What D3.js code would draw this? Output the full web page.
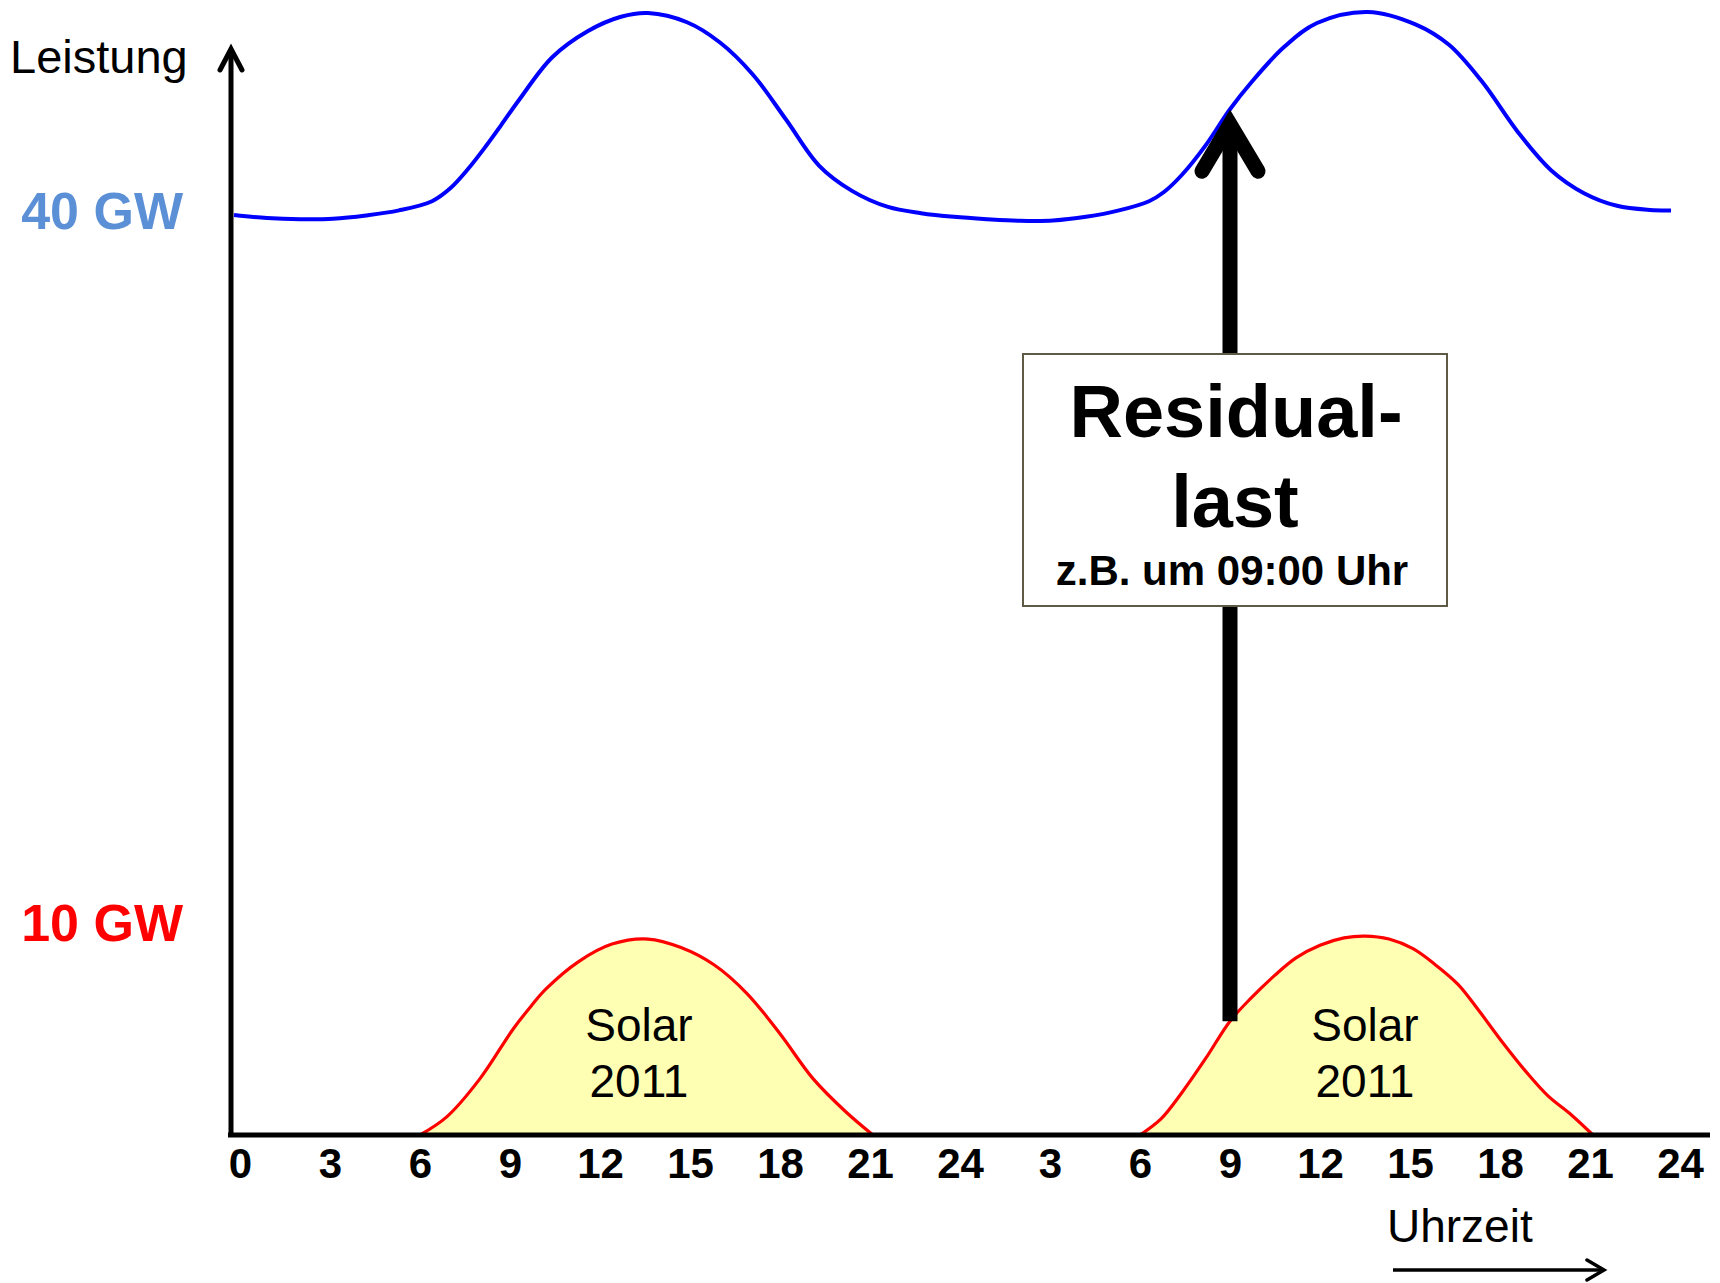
<!DOCTYPE html>
<html>
<head>
<meta charset="utf-8">
<script src="https://cdn.jsdelivr.net/npm/d3@7"></script>
<style>
  html, body { margin: 0; padding: 0; background: #ffffff; }
  svg { display: block; font-family: "Liberation Sans", Arial, Helvetica, sans-serif; }
</style>
</head>
<body>
<svg id="chart" width="1720" height="1283"></svg>
<script>
// Grid load over two days (hour 0..48), in GW
const loadHours  = [-0.2, 0.9, 2.0, 3.1, 4.2, 5.3, 6.4, 7.0, 7.6, 8.2, 8.7, 9.3, 10.4, 11.6, 12.7, 13.6,
                    14.9, 16.0, 17.1, 18.2, 19.3, 20.4, 21.6, 22.7, 23.8, 24.9, 26.0, 27.1, 28.2, 29.3,
                    30.3, 30.8, 31.4, 32.2, 33.0, 33.7, 34.8, 35.9, 37.6, 39.2, 40.3, 41.4, 42.6, 43.7,
                    44.8, 45.9, 47.0, 47.7];
const loadValues = [40.0, 39.87, 39.82, 39.84, 39.98, 40.2, 40.6, 41.15, 42.0, 43.0, 43.9, 45.0, 46.85, 48.0, 48.62, 48.78,
                    48.38, 47.5, 46.1, 44.15, 42.15, 41.05, 40.35, 40.08, 39.92, 39.82, 39.75, 39.76, 39.92, 40.2,
                    40.6, 41.0, 41.75, 43.05, 44.6, 45.75, 47.3, 48.35, 48.83, 48.28, 47.4, 45.8, 43.6, 41.95,
                    40.95, 40.4, 40.22, 40.2];

// Solar feed-in 2011, first day
const solarDay1Hours  = [6.0, 6.9, 8.0, 9.1, 9.7, 10.2, 11.3, 12.4, 13.6, 14.7, 15.8, 16.9, 18.0, 19.1, 20.2, 21.1];
const solarDay1Values = [0.0, 0.8, 2.45, 4.6, 5.6, 6.35, 7.55, 8.3, 8.52, 8.15, 7.4, 6.15, 4.4, 2.45, 1.0, 0.0];

// Solar feed-in 2011, second day
const solarDay2Hours  = [30.0, 30.7, 31.4, 32.2, 33.0, 33.7, 34.5, 35.2, 36.0, 36.8, 37.5, 38.3, 39.1, 39.8, 40.6,
                         41.3, 42.1, 42.9, 43.6, 44.4, 45.1];
const solarDay2Values = [0.0, 0.7, 1.85, 3.35, 4.95, 5.95, 6.95, 7.7, 8.25, 8.57, 8.65, 8.52, 8.1, 7.45, 6.55,
                         5.4, 4.0, 2.7, 1.7, 0.85, 0.0];

// Time axis
const hourTicks      = [0, 3, 6, 9, 12, 15, 18, 21, 24, 27, 30, 33, 36, 39, 42, 45, 48];
const hourTickLabels = ["0", "3", "6", "9", "12", "15", "18", "21", "24", "3", "6", "9", "12", "15", "18", "21", "24"];

// Power labels on the left
const powerLabelValues = [40, 10];
const powerLabelTexts  = ["40 GW", "10 GW"];
const powerLabelColors = ["#5b8fd6", "#ff0000"];

// Solar captions, placed at the hour of each bump
const solarCaptionHours = [13.3, 37.5];
const solarCaptionLines = ["Solar", "2011"];

// Residual load marker
const residualHour  = 33;
const residualLines = ["Residual-", "last", "z.B. um 09:00 Uhr"];

// ---------------------------------------------------------------
const svg = d3.select("#chart");

const x = d3.scaleLinear().domain([0, 48]).range([240, 1680]);
const y = d3.scaleLinear().domain([0, 40]).range([1135, 215]);

const loadData   = loadHours.map((h, i) => ({ h, v: loadValues[i] }));
const solar1Data = solarDay1Hours.map((h, i) => ({ h, v: solarDay1Values[i] }));
const solar2Data = solarDay2Hours.map((h, i) => ({ h, v: solarDay2Values[i] }));

const curve = d3.curveCatmullRom.alpha(0.5);
const line = d3.line().x(d => x(d.h)).y(d => y(d.v)).curve(curve);
const area = d3.area().x(d => x(d.h)).y0(y(0)).y1(d => y(d.v)).curve(curve);

// Solar areas
[solar1Data, solar2Data].forEach(data => {
  svg.append("path").datum(data)
    .attr("d", area)
    .attr("fill", "#ffffb4");
  svg.append("path").datum(data)
    .attr("d", line)
    .attr("fill", "none")
    .attr("stroke", "#ff0000")
    .attr("stroke-width", 3.2)
    .attr("stroke-linejoin", "round");
});

// Load curve
svg.append("path").datum(loadData)
  .attr("d", line)
  .attr("fill", "none")
  .attr("stroke", "#0000ff")
  .attr("stroke-width", 4)
  .attr("stroke-linejoin", "round");

// Axes lines
const axisX0 = x(0) - 9;
svg.append("line")
  .attr("x1", axisX0).attr("x2", axisX0)
  .attr("y1", y(0) + 2).attr("y2", 50)
  .attr("stroke", "#000").attr("stroke-width", 5);
svg.append("polyline")
  .attr("points", `${axisX0 - 11},70 ${axisX0},49 ${axisX0 + 11},70`)
  .attr("fill", "none").attr("stroke", "#000").attr("stroke-width", 5)
  .attr("stroke-linecap", "round").attr("stroke-linejoin", "miter");

svg.append("line")
  .attr("x1", axisX0 - 3).attr("x2", 1710)
  .attr("y1", y(0)).attr("y2", y(0))
  .attr("stroke", "#000").attr("stroke-width", 5);

// Hour tick labels
const xAxis = d3.axisBottom(x)
  .tickValues(hourTicks)
  .tickFormat((d, i) => hourTickLabels[i])
  .tickSize(0)
  .tickPadding(13);
const gx = svg.append("g").attr("transform", `translate(0,${y(0)})`).call(xAxis);
gx.select(".domain").remove();
gx.selectAll("text")
  .attr("fill", "#000")
  .style("font-family", "'Liberation Sans', Arial, sans-serif")
  .style("font-size", "42px")
  .style("font-weight", "bold");

// Axis titles
svg.append("text")
  .attr("x", 10).attr("y", 73)
  .style("font-size", "47px")
  .attr("fill", "#000")
  .text("Leistung");

svg.append("text")
  .attr("x", 1387).attr("y", 1242)
  .style("font-size", "46px")
  .attr("fill", "#000")
  .text("Uhrzeit");

svg.append("line")
  .attr("x1", 1393).attr("x2", 1603)
  .attr("y1", 1270).attr("y2", 1270)
  .attr("stroke", "#000").attr("stroke-width", 3.5);
svg.append("polyline")
  .attr("points", "1587,1260 1604,1270 1587,1280")
  .attr("fill", "none").attr("stroke", "#000").attr("stroke-width", 3.5)
  .attr("stroke-linecap", "round");

// Power labels
const powerLabelDy = [14, 36];
powerLabelValues.forEach((v, i) => {
  svg.append("text")
    .attr("x", 183).attr("y", y(v) + powerLabelDy[i])
    .attr("text-anchor", "end")
    .style("font-size", "52px")
    .style("font-weight", "bold")
    .attr("fill", powerLabelColors[i])
    .text(powerLabelTexts[i]);
});

// Solar captions
solarCaptionHours.forEach(h => {
  solarCaptionLines.forEach((t, j) => {
    svg.append("text")
      .attr("x", x(h)).attr("y", y(0) - 94 + j * 56)
      .attr("text-anchor", "middle")
      .style("font-size", "46px")
      .attr("fill", "#000")
      .text(t);
  });
});

// Residual load arrow: from solar curve up to the load curve at 09:00
const interp = (hs, vs, h) => {
  const i = d3.bisectLeft(hs, h);
  if (hs[i] === h) return vs[i];
  const t = (h - hs[i - 1]) / (hs[i] - hs[i - 1]);
  return vs[i - 1] + t * (vs[i] - vs[i - 1]);
};
const ax = x(residualHour);
const tipY = y(interp(loadHours, loadValues, residualHour));
const baseY = y(interp(solarDay2Hours, solarDay2Values, residualHour));

svg.append("line")
  .attr("x1", ax).attr("x2", ax)
  .attr("y1", baseY).attr("y2", tipY + 20)
  .attr("stroke", "#000").attr("stroke-width", 15);
svg.append("polyline")
  .attr("points", `${ax - 28},${tipY + 62} ${ax},${tipY + 15} ${ax + 28},${tipY + 62}`)
  .attr("fill", "none").attr("stroke", "#000").attr("stroke-width", 15)
  .attr("stroke-linecap", "round").attr("stroke-linejoin", "miter")
  .attr("stroke-miterlimit", 10);

// Residual load box
const boxW = 424, boxTop = 354, boxH = 252;
const boxCx = ax + 5;
svg.append("rect")
  .attr("x", boxCx - boxW / 2).attr("y", boxTop)
  .attr("width", boxW).attr("height", boxH)
  .attr("fill", "#ffffff")
  .attr("stroke", "#5e5a46").attr("stroke-width", 2);

svg.append("text").attr("x", boxCx + 1).attr("y", 437)
  .attr("text-anchor", "middle")
  .style("font-size", "74px").style("font-weight", "bold")
  .attr("fill", "#000").text(residualLines[0]);
svg.append("text").attr("x", boxCx).attr("y", 527)
  .attr("text-anchor", "middle")
  .style("font-size", "74px").style("font-weight", "bold")
  .attr("fill", "#000").text(residualLines[1]);
svg.append("text").attr("x", boxCx - 3).attr("y", 585)
  .attr("text-anchor", "middle")
  .style("font-size", "42px").style("font-weight", "bold")
  .attr("fill", "#000").text(residualLines[2]);
</script>
</body>
</html>
